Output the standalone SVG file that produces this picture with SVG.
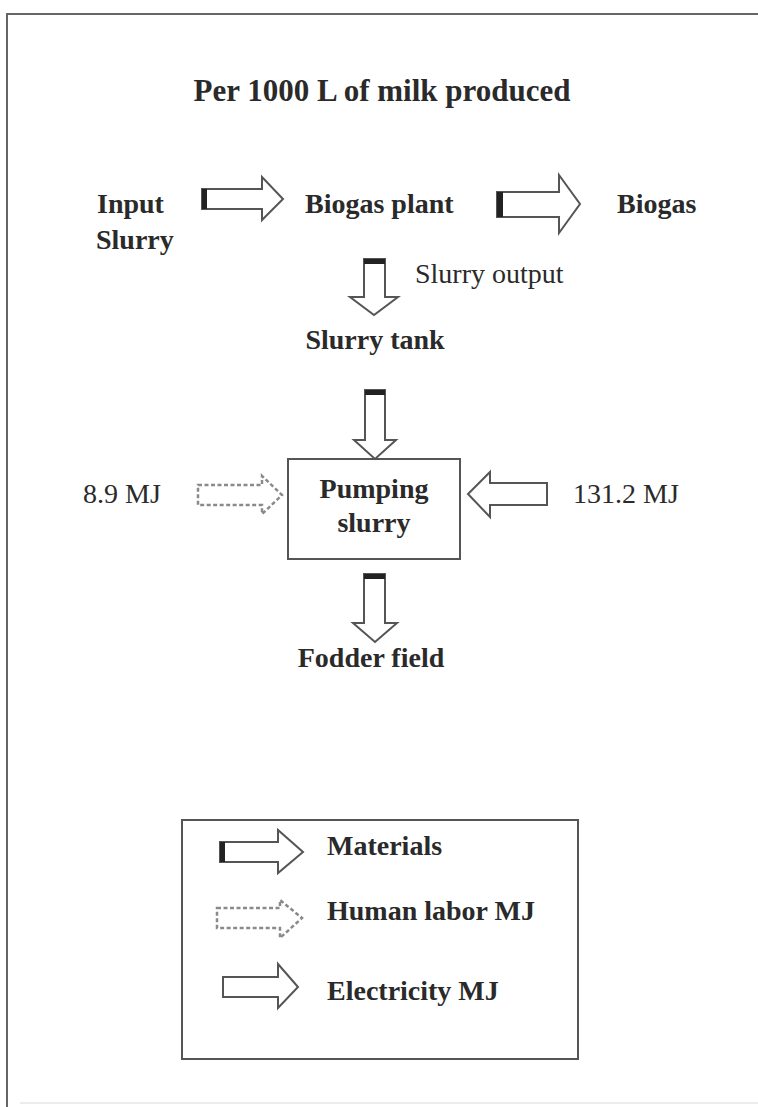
<svg xmlns="http://www.w3.org/2000/svg" width="758" height="1107" viewBox="0 0 758 1107">
<style>
text{font-family:"Liberation Serif","Times New Roman",serif;fill:#2a2a2a;font-size:28px}
.b{font-weight:bold}
.arr{fill:#fff;stroke:#555;stroke-width:2;stroke-linejoin:miter}
.lab{fill:#fff;stroke:#8a8a8a;stroke-width:2.5;stroke-dasharray:4 2.5}
.bar{fill:#222}
.box{fill:#fff;stroke:#555;stroke-width:2}
.frame{stroke:#666;stroke-width:2;fill:none}
</style>
<rect x="0" y="0" width="758" height="1107" fill="#fff"/>
<g id="frame">
<path class="frame" d="M7 1107 V14 H758"/>
<path d="M20 1103 H758" stroke="#ececec" stroke-width="2"/>
</g>
<text id="title" class="b" x="382" y="101" text-anchor="middle" style="font-size:31px">Per 1000 L of milk produced</text>
<g id="input-slurry"><text class="b" x="97" y="213">Input</text><text class="b" x="96" y="249">Slurry</text></g>
<g id="biogas-plant"><text class="b" x="305" y="213">Biogas plant</text></g>
<g id="biogas"><text class="b" x="617" y="213">Biogas</text></g>
<g id="slurry-tank"><text class="b" x="375" y="349" text-anchor="middle">Slurry tank</text></g>
<g id="pumping-slurry">
<rect class="box" x="288" y="459" width="172" height="100"/>
<text class="b" x="374" y="498" text-anchor="middle">Pumping</text>
<text class="b" x="374" y="532" text-anchor="middle">slurry</text>
</g>
<g id="fodder-field"><text class="b" x="371" y="667" text-anchor="middle">Fodder field</text></g>
<g id="labor-input"><text x="83" y="503">8.9 MJ</text></g>
<g id="electricity-input"><text x="573" y="503">131.2 MJ</text></g>
<g id="connectors">
<polygon class="arr" points="202,189 262,189 262,177 283,199 262,220 262,209 202,209"/>
<rect class="bar" x="202" y="189" width="5" height="20"/>
<polygon class="arr" points="497,192 559,192 559,175 580,204 559,233 559,217 497,217"/>
<rect class="bar" x="497" y="192" width="6" height="25"/>
<polygon class="arr" points="364,259 385,259 385,297 398,297 374,315 350,297 364,297"/>
<rect class="bar" x="364" y="259" width="21" height="5"/>
<text x="415" y="283">Slurry output</text>
<polygon class="arr" points="365,390 385,390 385,440 396,440 375,459 354,440 365,440"/>
<rect class="bar" x="365" y="390" width="20" height="5"/>
<polygon class="arr" points="364,574 385,574 385,623 397,623 375,642 353,623 364,623"/>
<rect class="bar" x="364" y="574" width="21" height="5"/>
<polygon class="lab" points="198,485 262,485 262,476 282,495 262,514 262,505 198,505"/>
<polygon class="arr" points="547,483 490,483 490,472 468,494 490,517 490,505 547,505"/>
</g>
<g id="legend">
<rect class="box" x="182" y="820" width="396" height="239"/>
<polygon class="arr" points="220,842 278,842 278,830 303,852 278,873 278,862 220,862"/>
<rect class="bar" x="220" y="842" width="5" height="20"/>
<text class="b" x="327" y="855">Materials</text>
<polygon class="lab" points="217,908 280,908 280,900 302,918 280,938 280,928 217,928"/>
<text class="b" x="327" y="920">Human labor MJ</text>
<polygon class="arr" points="223,977 278,977 278,964 298,987 278,1008 278,997 223,997"/>
<text class="b" x="327" y="1000">Electricity MJ</text>
</g>
</svg>
